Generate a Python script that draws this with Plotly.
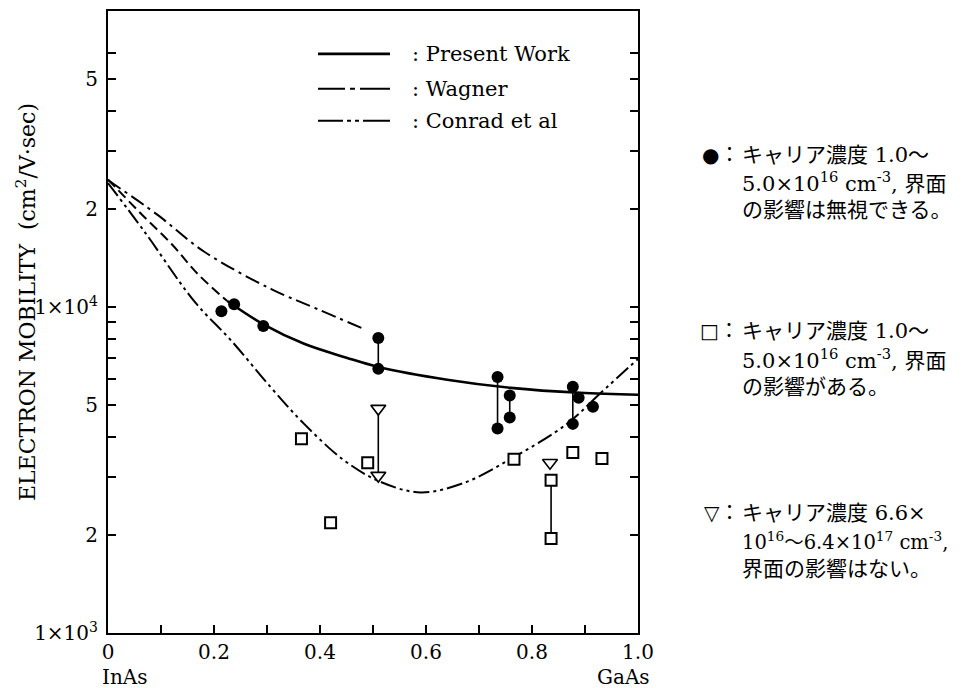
import plotly.graph_objects as go

# ---------------- data ----------------
present_dash_x = [0.0, 0.06, 0.12, 0.17, 0.225]
present_dash_y = [24600, 19500, 15600, 12600, 10430]
present_x = [0.225, 0.295, 0.37, 0.45, 0.51, 0.64, 0.76, 0.89, 1.0]
present_y = [10430, 8810, 7710, 6990, 6550, 5985, 5650, 5455, 5380]

wagner_x = [0.0, 0.093, 0.181, 0.308, 0.395, 0.48]
wagner_y = [24500, 19200, 14800, 11350, 9860, 8600]

conrad_x = [0.0, 0.068, 0.163, 0.233, 0.308, 0.37, 0.446, 0.516, 0.59, 0.67, 0.764, 0.866, 0.928, 1.0]
conrad_y = [24000, 17100, 10400, 7870, 5650, 4380, 3380, 2900, 2700, 2880, 3450, 4380, 5420, 6930]

circle_x = [0.214, 0.238, 0.293, 0.51, 0.51, 0.735, 0.735, 0.758, 0.758, 0.877, 0.888, 0.877, 0.915]
circle_y = [9700, 10200, 8750, 8040, 6460, 6100, 4240, 5350, 4580, 5690, 5270, 4380, 4940]

square_x = [0.365, 0.42, 0.49, 0.766, 0.836, 0.836, 0.877, 0.932]
square_y = [3940, 2180, 3330, 3410, 2940, 1950, 3580, 3430]

tri_x = [0.51, 0.51, 0.834]
tri_y = [4880, 3040, 3330]

# vertical connectors (x, y_low, y_high)
conn_x = [0.51, 0.51, 0.735, 0.758, 0.877, 0.836]
conn_lo = [6460, 3040, 4240, 4580, 4380, 1950]
conn_hi = [8040, 4880, 6100, 5350, 5690, 2940]

x_tickvals = [0, 0.2, 0.4, 0.6, 0.8, 1.0]
x_ticktext = ["0", "0.2", "0.4", "0.6", "0.8", "1.0"]
x_minor = [0.1, 0.3, 0.5, 0.7, 0.9]
y_tickvals = [1000, 2000, 5000, 10000, 20000, 50000]
y_ticktext = ["1×10<sup>3</sup>", "2", "5", "1×10<sup>4</sup>", "2", "5"]
y_minor = [3000, 4000, 6000, 7000, 8000, 9000, 30000, 40000, 60000]

legend_names = [": Present Work", ": Wagner", ": Conrad et al"]
note_symbols = ["●：", "□：", "▽："]
notes = [
    ["キャリア濃度 1.0～", "5.0×10<sup>16</sup> cm<sup>-3</sup>, 界面", "の影響は無視できる。"],
    ["キャリア濃度 1.0～", "5.0×10<sup>16</sup> cm<sup>-3</sup>, 界面", "の影響がある。"],
    ["キャリア濃度 6.6×", "10<sup>16</sup>～6.4×10<sup>17</sup> cm<sup>-3</sup>,", "界面の影響はない。"],
]

# ---------------- layout geometry (pixels) ----------------
W, H = 965, 688
L, R, T, B = 108, 638, 9, 633
SERIF = "DejaVu Serif"
JP = "DejaVu Serif, Noto Sans CJK JP"


def px(xp):
    return (xp - L) / (R - L)


def py(yp):
    return (B - yp) / (B - T)


fig = go.Figure()

fig.add_trace(go.Scatter(x=present_dash_x, y=present_dash_y, mode="lines",
                         line=dict(color="black", width=2, dash="10px,5px", shape="spline")))
fig.add_trace(go.Scatter(x=present_x, y=present_y, mode="lines",
                         line=dict(color="black", width=2.6, shape="spline")))
fig.add_trace(go.Scatter(x=wagner_x, y=wagner_y, mode="lines",
                         line=dict(color="black", width=2, dash="15px,5px,3px,5px", shape="spline")))
fig.add_trace(go.Scatter(x=conrad_x, y=conrad_y, mode="lines",
                         line=dict(color="black", width=2, dash="16px,4px,3px,4px,3px,4px", shape="spline")))

vx, vy = [], []
for cx, lo, hi in zip(conn_x, conn_lo, conn_hi):
    vx += [cx, cx, None]
    vy += [lo, hi, None]
fig.add_trace(go.Scatter(x=vx, y=vy, mode="lines", line=dict(color="black", width=1.6)))

fig.add_trace(go.Scatter(x=circle_x, y=circle_y, mode="markers",
                         marker=dict(symbol="circle", size=12, color="black")))
fig.add_trace(go.Scatter(x=square_x, y=square_y, mode="markers",
                         marker=dict(symbol="square", size=11, color="white",
                                     line=dict(color="black", width=2))))
fig.add_trace(go.Scatter(x=tri_x, y=tri_y, mode="markers",
                         marker=dict(symbol="triangle-down", size=13, color="white",
                                     line=dict(color="black", width=1.6))))

axis_common = dict(showline=True, linewidth=2, linecolor="black", showgrid=False,
                   zeroline=False, ticks="inside", ticklen=8, tickwidth=2, tickcolor="black",
                   tickfont=dict(family=SERIF, size=20, color="black"))

fig.update_xaxes(range=[0, 1], tickvals=x_tickvals, ticktext=x_ticktext, mirror=True,
                 minor=dict(tickvals=x_minor, ticks="inside", ticklen=8, tickwidth=2, tickcolor="black"),
                 **axis_common)
fig.update_yaxes(type="log", range=[3, 4.908], tickvals=y_tickvals, ticktext=y_ticktext,
                 mirror="ticks", ticklabelstandoff=4,
                 minor=dict(tickvals=y_minor, ticks="inside", ticklen=8, tickwidth=2, tickcolor="black"),
                 **axis_common)

ann = []
# axis labels
ann.append(dict(text="ELECTRON MOBILITY  (cm<sup>2</sup>/V·sec)", x=px(26), y=py(301),
                xref="paper", yref="paper", textangle=-90, showarrow=False,
                font=dict(family=SERIF, size=22, color="black"), xanchor="center", yanchor="middle"))
ann.append(dict(text="InAs", x=px(100), y=py(677), xref="paper", yref="paper", showarrow=False,
                xanchor="left", yanchor="middle", font=dict(family=SERIF, size=20, color="black")))
ann.append(dict(text="GaAs", x=px(652), y=py(677), xref="paper", yref="paper", showarrow=False,
                xanchor="right", yanchor="middle", font=dict(family=SERIF, size=20, color="black")))

# legend
leg_rows = [52, 87, 119]
leg_dash = ["solid", "27px,5px,5px,5px,30px", "25px,4px,4px,4px,4px,4px,30px"]
leg_width = [2.6, 2, 2]
shapes = []
for name, yr, d, w in zip(legend_names, leg_rows, leg_dash, leg_width):
    shapes.append(dict(type="line", xref="paper", yref="paper", x0=px(318), x1=px(390),
                       y0=py(yr), y1=py(yr), line=dict(color="black", width=w, dash=d)))
    ann.append(dict(text=name, x=px(410), y=py(yr), xref="paper", yref="paper", showarrow=False,
                    xanchor="left", yanchor="middle", font=dict(family=SERIF, size=21, color="black")))

# notes on the right
block_tops = [153, 330, 513]
for sym, lines, top in zip(note_symbols, notes, block_tops):
    ann.append(dict(text=sym, x=px(741), y=py(top), xref="paper", yref="paper",
                    showarrow=False, xanchor="right", yanchor="middle",
                    font=dict(family=JP, size=20, color="black")))
    for i, t in enumerate(lines):
        size = 19.5 if "10<sup>17</sup>" in t else 21
        ann.append(dict(text=t, x=px(740), y=py(top + 28 * i), xref="paper", yref="paper",
                        showarrow=False, xanchor="left", yanchor="middle",
                        font=dict(family=JP, size=size, color="black")))

fig.update_layout(width=W, height=H, margin=dict(l=L, r=W - R, t=T, b=H - B),
                  paper_bgcolor="white", plot_bgcolor="white", showlegend=False,
                  annotations=ann, shapes=shapes)

fig.write_html("out.html")
